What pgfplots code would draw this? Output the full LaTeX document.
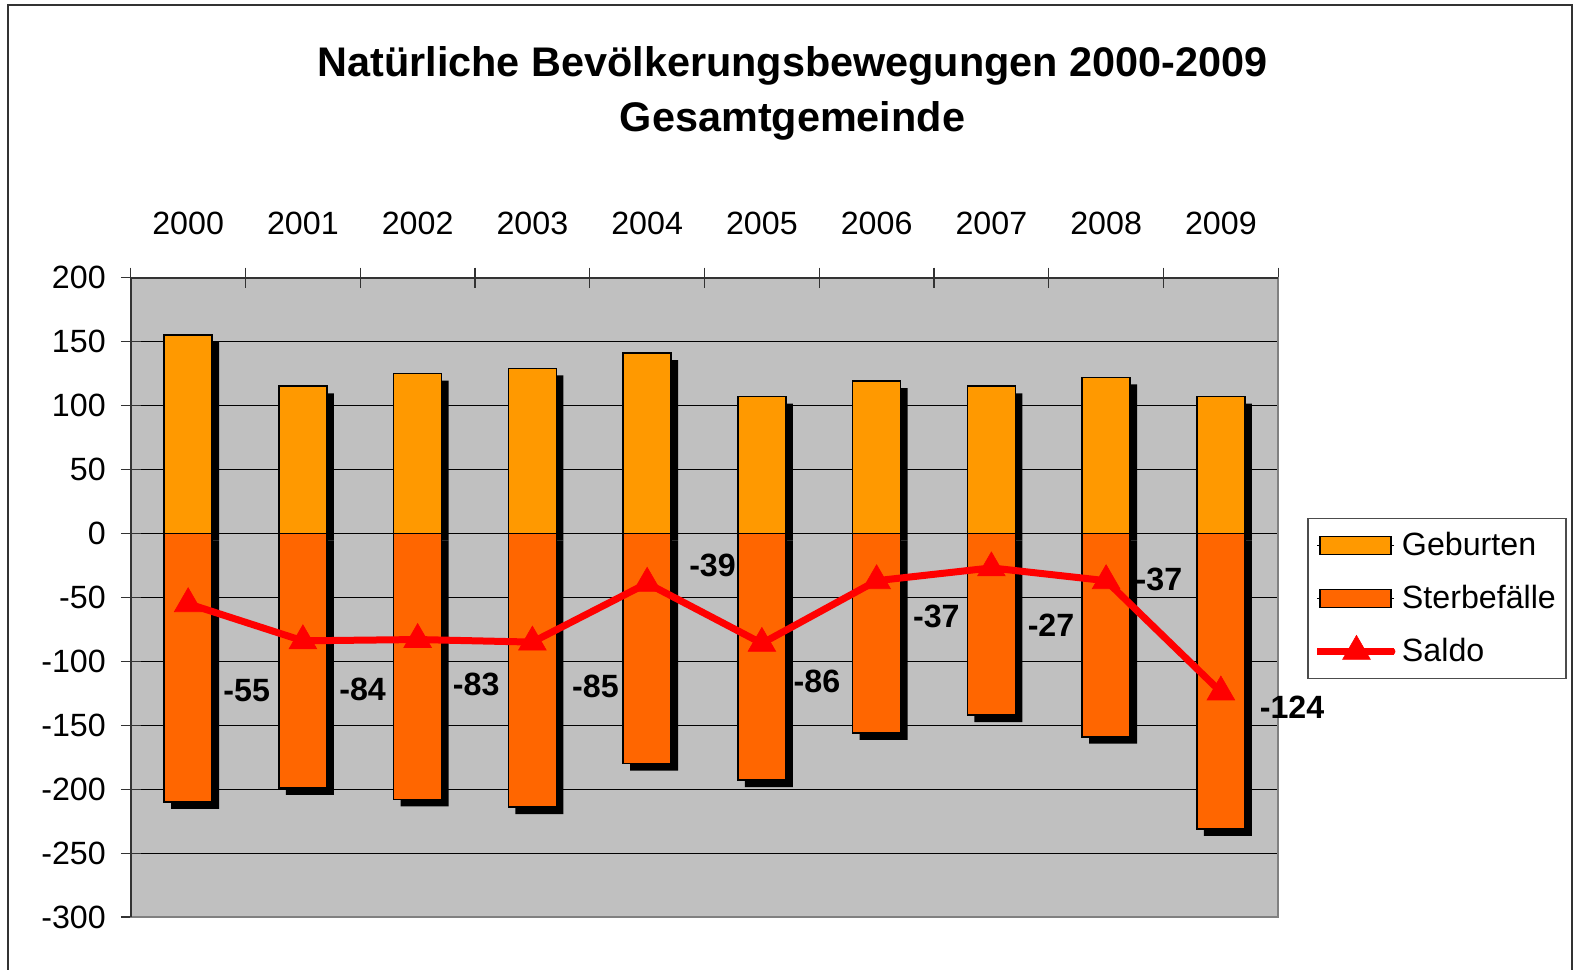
\documentclass[border=0pt]{standalone}
\usepackage{fontspec}
\setmainfont{Liberation Sans}
\usepackage{pgfplots}
\usepackage{pgfplotstable}
\pgfplotsset{compat=1.18}
\definecolor{geb}{HTML}{FF9900}
\definecolor{sterb}{HTML}{FF6600}
\definecolor{bgc}{HTML}{C0C0C0}
\definecolor{saldo}{HTML}{FF0000}
\pgfplotsset{
  barlegend/.style={legend image code/.code={\path (0pt,0pt) -- (38.5pt,0pt);\draw[##1, draw=black, line width=0.8pt] (1.3pt,-4.5pt) rectangle (36.8pt,4.5pt);}},
  linelegend/.style={legend image code/.code={\path (0pt,0pt) -- (38.5pt,0pt);\draw[mark repeat=2,mark phase=2,line cap=round,##1] plot coordinates {(1.75pt,0pt) (19.5pt,0pt) (37.25pt,0pt)};}},
}
\pgfplotstableread{
x geb sterb saldo
0 155 -210 -55
1 115 -199 -84
2 125 -208 -83
3 129 -214 -85
4 141 -180 -39
5 107 -193 -86
6 119 -156 -37
7 115 -142 -27
8 122 -159 -37
9 107 -231 -124
}\datatable
\begin{document}
\begin{tikzpicture}
\useasboundingbox (-65.4pt,-26.2pt) rectangle (723.2pt,458.6pt);
\draw[line width=0.8pt, color=black!80] (-61.4pt,-40pt) -- (-61.4pt,456.1pt) -- (720.6pt,456.1pt) -- (720.6pt,-40pt);
\begin{axis}[
  at={(0,0)}, anchor=south west,
  scale only axis, width=573.8pt, height=319.8pt,
  clip=false,
  xmin=-0.5, xmax=9.5, ymin=-300, ymax=200,
  ytick={-300,-250,...,200},
  yticklabels={-300,-250,-200,-150,-100,-50,0,50,100,150,200},
  xtick={0,...,9},
  xticklabels={2000,2001,2002,2003,2004,2005,2006,2007,2008,2009},
  minor xtick={-0.5,0.5,...,9.5},
  major x tick style={draw=none},
  xtick pos=right, xticklabel pos=right,
  ytick pos=left,
  tick align=center,
  major tick length=10pt, minor tick length=10pt,
  tick style={black!80, line width=0.6pt},
  axis line style={draw=black!50, line width=1pt},
  ymajorgrids,
  grid style={black, line width=0.5pt},
  axis background/.style={fill=bgc},
  tick label style={font=\fontsize{16.1}{19}\selectfont},
  xticklabel style={anchor=base, yshift=16.6pt},
  yticklabel style={anchor=east, xshift=-4pt},
  /pgf/number format/assume math mode=true,
  legend style={at={(1.0254,0.6244)}, anchor=north west, draw=black!70, line width=0.6pt,
    font=\fontsize{16.1}{19}\selectfont, row sep=9.3pt, inner xsep=3pt, inner ysep=5pt,
    nodes={inner xsep=2pt}, cells={anchor=west}},
  legend cell align=left,
]
\addplot[ybar, bar width=24pt, bar shift=0pt, fill=black, draw=none, xshift=3.5pt, yshift=-3.5pt, forget plot] table[x=x,y=geb]{\datatable};
\addplot[ybar, bar width=24pt, bar shift=0pt, fill=geb, draw=black, line width=0.8pt, barlegend] table[x=x,y=geb]{\datatable};
\addlegendentry{Geburten}
\addplot[ybar, bar width=24pt, bar shift=0pt, fill=black, draw=none, xshift=3.5pt, yshift=-3.5pt, forget plot] table[x=x,y=sterb]{\datatable};
\addplot[ybar, bar width=24pt, bar shift=0pt, fill=sterb, draw=black, line width=0.8pt, barlegend] table[x=x,y=sterb]{\datatable};
\addlegendentry{Sterbefälle}
\addplot[saldo, line width=3.5pt, mark=triangle*, mark size=8pt, mark options={line width=0.3pt}, linelegend] table[x=x,y=saldo]{\datatable};
\addlegendentry{Saldo}
\draw[black!80, line width=1pt] (rel axis cs:0,0) -- (rel axis cs:0,1) -- (rel axis cs:1,1);
\begin{scope}[every node/.style={font=\bfseries\fontsize{16.1}{19}\selectfont}]
\node at (axis cs:0.51,-123) {-55};
\node at (axis cs:1.52,-122) {-84};
\node at (axis cs:2.51,-118) {-83};
\node at (axis cs:3.55,-120) {-85};
\node at (axis cs:4.57,-25) {-39};
\node at (axis cs:5.48,-116) {-86};
\node at (axis cs:6.52,-65) {-37};
\node at (axis cs:7.52,-72) {-27};
\node at (axis cs:8.46,-36) {-37};
\node at (axis cs:9.62,-136) {-124};
\end{scope}
\end{axis}
\node[anchor=base, font=\bfseries\fontsize{20.7}{27}\selectfont] at (330.9pt,420.3pt) {Natürliche Bevölkerungsbewegungen 2000-2009};
\node[anchor=base, font=\bfseries\fontsize{20.7}{27}\selectfont] at (330.9pt,392.8pt) {Gesamtgemeinde};
\end{tikzpicture}
\end{document}
